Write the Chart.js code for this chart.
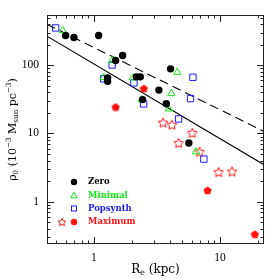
<!DOCTYPE html>
<html>
<head>
<meta charset="utf-8">
<script src="https://cdn.jsdelivr.net/npm/chart.js@4/dist/chart.umd.min.js"></script>
<style>
  html, body { margin: 0; padding: 0; background: #fff; }
  #wrap { width: 279px; height: 279px; }
</style>
</head>
<body>
<div id="wrap"><canvas id="c" width="279" height="279"></canvas></div>
<script>
// R_e (kpc) and rho_0 (1e-3 Msun/pc^3)
const zeroRe   = [0.596, 0.694, 1.09, 1.284, 1.284, 1.487, 1.69, 2.17, 2.335, 2.435, 3.28, 3.755, 4.06, 5.67];
const zeroRho  = [273, 255, 273, 65.3, 58.2, 117, 139, 67.5, 67.5, 31.3, 43.2, 27.3, 88.5, 7.22];

const minRe    = [0.565, 1.194, 1.394, 2.04, 2.39, 3.94, 4.115, 4.59, 6.47];
const minRho   = [324, 65.9, 117, 65.3, 31.3, 22.9, 38.4, 78.9, 5.38];

const popRe    = [0.497, 1.194, 1.394, 2.078, 2.48, 4.70, 5.85, 6.11, 7.46];
const popRho   = [352, 63.1, 100.7, 55.1, 27.1, 16.3, 32.4, 66.6, 4.20];

const maxStarRe  = [3.54, 4.16, 4.70, 6.04, 6.90, 9.76, 12.5];
const maxStarRho = [14.4, 13.4, 7.22, 10.2, 5.38, 2.71, 2.76];

const maxFillRe  = [1.487, 2.49, 7.99, 18.96];
const maxFillRho = [24.3, 45.4, 1.46, 0.332];

// the two power-law lines, end points at the plot edges
const solidRe  = [0.424, 22.4];
const solidRho = [267, 3.47];
const dashRe   = [0.424, 22.4];
const dashRho  = [397, 10.7];

const xTicks = [0.5, 0.6, 0.7, 0.8, 0.9, 1, 2, 3, 4, 5, 6, 7, 8, 9, 10, 20];
const yTicks = [0.3, 0.4, 0.5, 0.6, 0.7, 0.8, 0.9, 1, 2, 3, 4, 5, 6, 7, 8, 9,
                10, 20, 30, 40, 50, 60, 70, 80, 90, 100, 200, 300, 400, 500];
const majorTicks = [1, 10, 100];

const GREEN = '#10e810', BLUE = '#1a1aff', RED = '#ff1010';
const SERIF = '"DejaVu Serif", "Liberation Serif", serif';
const TSERIF = '"Liberation Serif", serif';

function pts(xs, ys) { return xs.map((x, i) => ({x: x, y: ys[i]})); }

function makeStar(size, R, color) {
  const c = document.createElement('canvas');
  c.width = c.height = size;
  const g = c.getContext('2d');
  const cx = size / 2, cy = size / 2 + 0.4, r = R * 0.5;
  g.beginPath();
  for (let i = 0; i < 10; i++) {
    const a = -Math.PI / 2 + i * Math.PI / 5;
    const rr = i % 2 ? r : R;
    const px = cx + rr * Math.cos(a), py = cy + rr * Math.sin(a);
    i ? g.lineTo(px, py) : g.moveTo(px, py);
  }
  g.closePath();
  g.strokeStyle = color;
  g.lineWidth = 1;
  g.stroke();
  return c;
}

function makePentagon(size, color) {
  const c = document.createElement('canvas');
  c.width = c.height = size;
  const g = c.getContext('2d');
  const cx = size / 2, cy = size / 2 + 0.3, R = size / 2 - 0.2;
  g.beginPath();
  for (let i = 0; i < 5; i++) {
    const a = -Math.PI / 2 + i * 2 * Math.PI / 5;
    const px = cx + R * Math.cos(a), py = cy + R * Math.sin(a);
    i ? g.lineTo(px, py) : g.moveTo(px, py);
  }
  g.closePath();
  g.fillStyle = color;
  g.fill();
  return c;
}

const starImg = makeStar(12, 5, RED);
const starSmall = makeStar(10, 4, RED);
const pentImg = makePentagon(9, RED);

// draw text with sub/superscript pieces, centred on cx
function drawRich(ctx, parts, cx, cy, size, family) {
  let w = 0;
  parts.forEach(p => { ctx.font = (size * p[2]).toFixed(1) + 'px ' + family; w += ctx.measureText(p[0]).width; });
  let x = cx - w / 2;
  ctx.textAlign = 'left';
  ctx.textBaseline = 'middle';
  parts.forEach(p => {
    ctx.font = (size * p[2]).toFixed(1) + 'px ' + family;
    ctx.fillText(p[0], x, cy + p[1]);
    x += ctx.measureText(p[0]).width;
  });
}

// frame, inward ticks, axis titles and legend
const framePlugin = {
  id: 'frame',
  afterDraw(chart) {
    const ctx = chart.ctx, a = chart.chartArea;
    const xs = chart.scales.x, ys = chart.scales.y;
    ctx.save();
    ctx.strokeStyle = '#222';
    ctx.lineWidth = 1;
    ctx.strokeRect(a.left + 0.5, a.top + 0.5, a.right - a.left - 1, a.bottom - a.top - 1);
    ctx.beginPath();
    xTicks.forEach(v => {
      const p = Math.round(xs.getPixelForValue(v)) + 0.5;
      const len = majorTicks.includes(v) ? 7 : 3.5;
      ctx.moveTo(p, a.bottom); ctx.lineTo(p, a.bottom - len);
      ctx.moveTo(p, a.top); ctx.lineTo(p, a.top + len);
    });
    yTicks.forEach(v => {
      const p = Math.round(ys.getPixelForValue(v)) + 0.5;
      const len = majorTicks.includes(v) ? 7 : 3.5;
      ctx.moveTo(a.left, p); ctx.lineTo(a.left + len, p);
      ctx.moveTo(a.right, p); ctx.lineTo(a.right - len, p);
    });
    ctx.stroke();

    // x title: R_e (kpc)
    ctx.fillStyle = '#000';
    drawRich(ctx, [['R', 0, 1], ['e', 3, 0.65], [' (kpc)', 0, 1]], (a.left + a.right) / 2, 270, 12, SERIF);

    // y title, rotated
    ctx.save();
    ctx.translate(13, (a.top + a.bottom) / 2);
    ctx.rotate(-Math.PI / 2);
    drawRich(ctx, [['ρ', 0, 1], ['0', 3, 0.65], [' (10', 0, 1], ['−3', -4, 0.65],
                   [' M', 0, 1], ['sun', 3, 0.65], [' pc', 0, 1], ['−3', -4, 0.65], [')', 0, 1]],
             0, 0, 11, SERIF);
    ctx.restore();

    // legend
    const lx = 74, tx = 88;
    const rows = [
      {y: 182, label: 'Zero', color: '#000'},
      {y: 195.5, label: 'Minimal', color: GREEN},
      {y: 208.5, label: 'Popsynth', color: BLUE},
      {y: 222, label: 'Maximum', color: RED}
    ];
    ctx.lineWidth = 1;
    ctx.fillStyle = '#000';
    ctx.beginPath(); ctx.arc(lx, rows[0].y, 3.2, 0, Math.PI * 2); ctx.fill();
    ctx.fillStyle = 'rgba(0,0,0,0)';
    ctx.strokeStyle = GREEN;
    Chart.helpers.drawPoint(ctx, {pointStyle: 'triangle', radius: 3.6, rotation: 0, borderWidth: 1}, lx, rows[1].y + 0.5);
    ctx.strokeStyle = BLUE;
    ctx.strokeRect(lx - 2.5, rows[2].y - 2.5, 5, 5);
    ctx.drawImage(starSmall, 62 - 5, rows[3].y - 5);
    ctx.fillStyle = RED;
    ctx.beginPath(); ctx.arc(lx, rows[3].y, 3.2, 0, Math.PI * 2); ctx.fill();

    ctx.font = 'bold 8.5px ' + SERIF;
    ctx.textBaseline = 'middle';
    ctx.textAlign = 'left';
    rows.forEach(r => { ctx.fillStyle = r.color; ctx.fillText(r.label, tx, r.y); });
    ctx.restore();
  }
};

new Chart(document.getElementById('c'), {
  type: 'scatter',
  data: {
    datasets: [
      { label: 'Zero', data: pts(zeroRe, zeroRho), pointStyle: 'circle', pointRadius: 3.7,
        pointBackgroundColor: '#000', pointBorderColor: '#000', pointBorderWidth: 0 },
      { label: 'Minimal', data: pts(minRe, minRho), pointStyle: 'triangle', pointRadius: 4.2,
        pointBackgroundColor: 'rgba(0,0,0,0)', pointBorderColor: GREEN, pointBorderWidth: 1 },
      { label: 'Popsynth', data: pts(popRe, popRho), pointStyle: 'rect', pointRadius: 4.5,
        pointBackgroundColor: 'rgba(0,0,0,0)', pointBorderColor: BLUE, pointBorderWidth: 1 },
      { label: 'Maximum', data: pts(maxStarRe, maxStarRho), pointStyle: starImg },
      { label: 'Maximum (filled)', data: pts(maxFillRe, maxFillRho), pointStyle: pentImg },
      { label: 'fit', data: pts(solidRe, solidRho), showLine: true, pointRadius: 0,
        borderColor: '#000', borderWidth: 1.1 },
      { label: 'fit dashed', data: pts(dashRe, dashRho), showLine: true, pointRadius: 0,
        borderColor: '#000', borderWidth: 1.1, borderDash: [9, 5] }
    ]
  },
  options: {
    responsive: false,
    animation: false,
    events: [],
    layout: { padding: { top: 15, right: 15, left: 0, bottom: 0 } },
    plugins: { legend: { display: false }, tooltip: { enabled: false } },
    scales: {
      x: {
        type: 'logarithmic', min: 0.424, max: 22.4,
        afterBuildTicks: s => { s.ticks = xTicks.map(v => ({value: v})); },
        afterFit: s => { s.height = 35; },
        grid: { display: false, drawTicks: false },
        border: { display: false },
        ticks: {
          autoSkip: false, maxRotation: 0, padding: 7, color: '#000',
          font: { family: TSERIF, size: 11.5 },
          callback: v => (majorTicks.includes(v) ? String(v) : '')
        }
      },
      y: {
        type: 'logarithmic', min: 0.239, max: 545,
        afterBuildTicks: s => { s.ticks = yTicks.map(v => ({value: v})); },
        afterFit: s => { s.width = 47; },
        grid: { display: false, drawTicks: false },
        border: { display: false },
        ticks: {
          autoSkip: false, padding: 8, color: '#000',
          font: { family: TSERIF, size: 11.5 },
          callback: v => (majorTicks.includes(v) ? String(v) : '')
        }
      }
    }
  },
  plugins: [framePlugin]
});
</script>
</body>
</html>
